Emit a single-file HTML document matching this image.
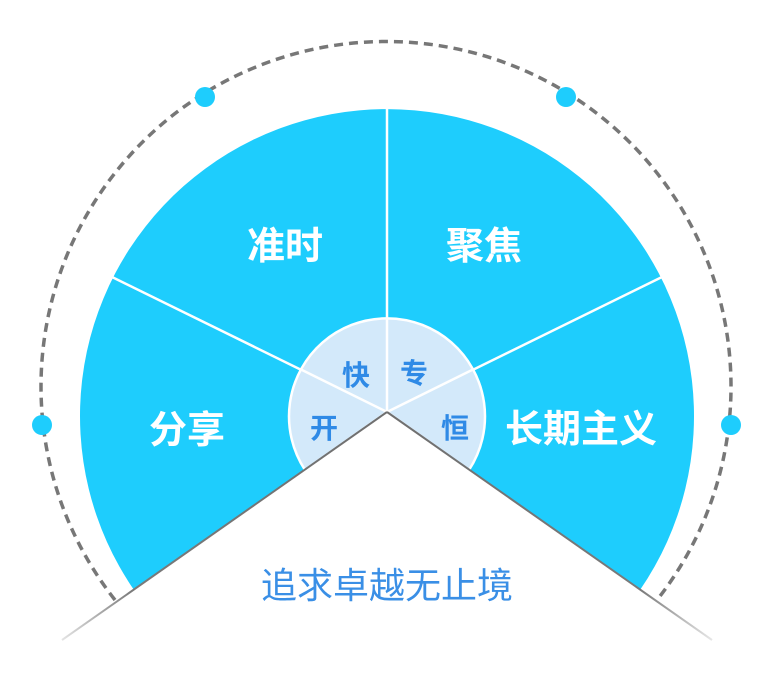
<!DOCTYPE html>
<html><head><meta charset="utf-8"><style>
html,body{margin:0;padding:0;background:#fff;width:775px;height:676px;overflow:hidden}
svg{display:block}
text{font-family:"Liberation Sans","Noto Sans CJK SC",sans-serif}
</style></head><body>
<svg width="775" height="676" viewBox="0 0 775 676" xmlns="http://www.w3.org/2000/svg">
<defs>
<linearGradient id="gl" x1="387" y1="412" x2="60" y2="640" gradientUnits="userSpaceOnUse">
<stop offset="0" stop-color="#6f6f6f"/><stop offset="0.78" stop-color="#7a7a7a"/><stop offset="1" stop-color="#e6e6e6"/></linearGradient>
<linearGradient id="gr" x1="387" y1="412" x2="712" y2="640" gradientUnits="userSpaceOnUse">
<stop offset="0" stop-color="#6f6f6f"/><stop offset="0.78" stop-color="#7a7a7a"/><stop offset="1" stop-color="#e6e6e6"/></linearGradient>
</defs>
<path d="M115,600 A345,345 0 1 1 657,600" fill="none" stroke="#777" stroke-width="3.5" stroke-dasharray="9 6"/>
<path d="M387,412 L134,590 A307,307 0 1 1 640,590 Z" fill="#1ecdfd"/>
<g stroke="#fff" stroke-width="2.5">
<line x1="387" y1="412" x2="387" y2="105"/>
<line x1="387" y1="412" x2="112" y2="277"/>
<line x1="387" y1="412" x2="662" y2="277"/>
</g>
<path d="M387,412 L305,470 A98,98 0 1 1 469,470 Z" fill="#d3e9fa" stroke="#fff" stroke-width="2.5"/>
<g stroke="#fff" stroke-width="2.5">
<line x1="387" y1="412" x2="387" y2="318"/>
<line x1="387" y1="412" x2="300" y2="369"/>
<line x1="387" y1="412" x2="474" y2="369"/>
</g>
<line x1="387" y1="412" x2="62" y2="640" stroke="url(#gl)" stroke-width="2"/>
<line x1="387" y1="412" x2="712" y2="640" stroke="url(#gr)" stroke-width="2"/>
<g fill="#1ecdfd">
<circle cx="42" cy="425" r="10"/><circle cx="731" cy="425" r="10"/>
<circle cx="205" cy="97" r="10"/><circle cx="566" cy="97" r="10"/>
</g>
<g fill="#fff" font-size="38" font-weight="bold" text-anchor="middle">
<text x="285" y="259">准时</text>
<text x="484" y="259">聚焦</text>
<text x="187" y="443">分享</text>
<text x="581" y="442">长期主义</text>
</g>
<g fill="#2f8ae6" font-size="28" font-weight="bold" text-anchor="middle">
<text x="356" y="385">快</text>
<text x="414" y="383">专</text>
<text x="324" y="438">开</text>
<text x="455" y="438">恒</text>
</g>
<text x="387" y="598" fill="#3a8fe6" font-size="36" text-anchor="middle">追求卓越无止境</text>
</svg>
</body></html>
